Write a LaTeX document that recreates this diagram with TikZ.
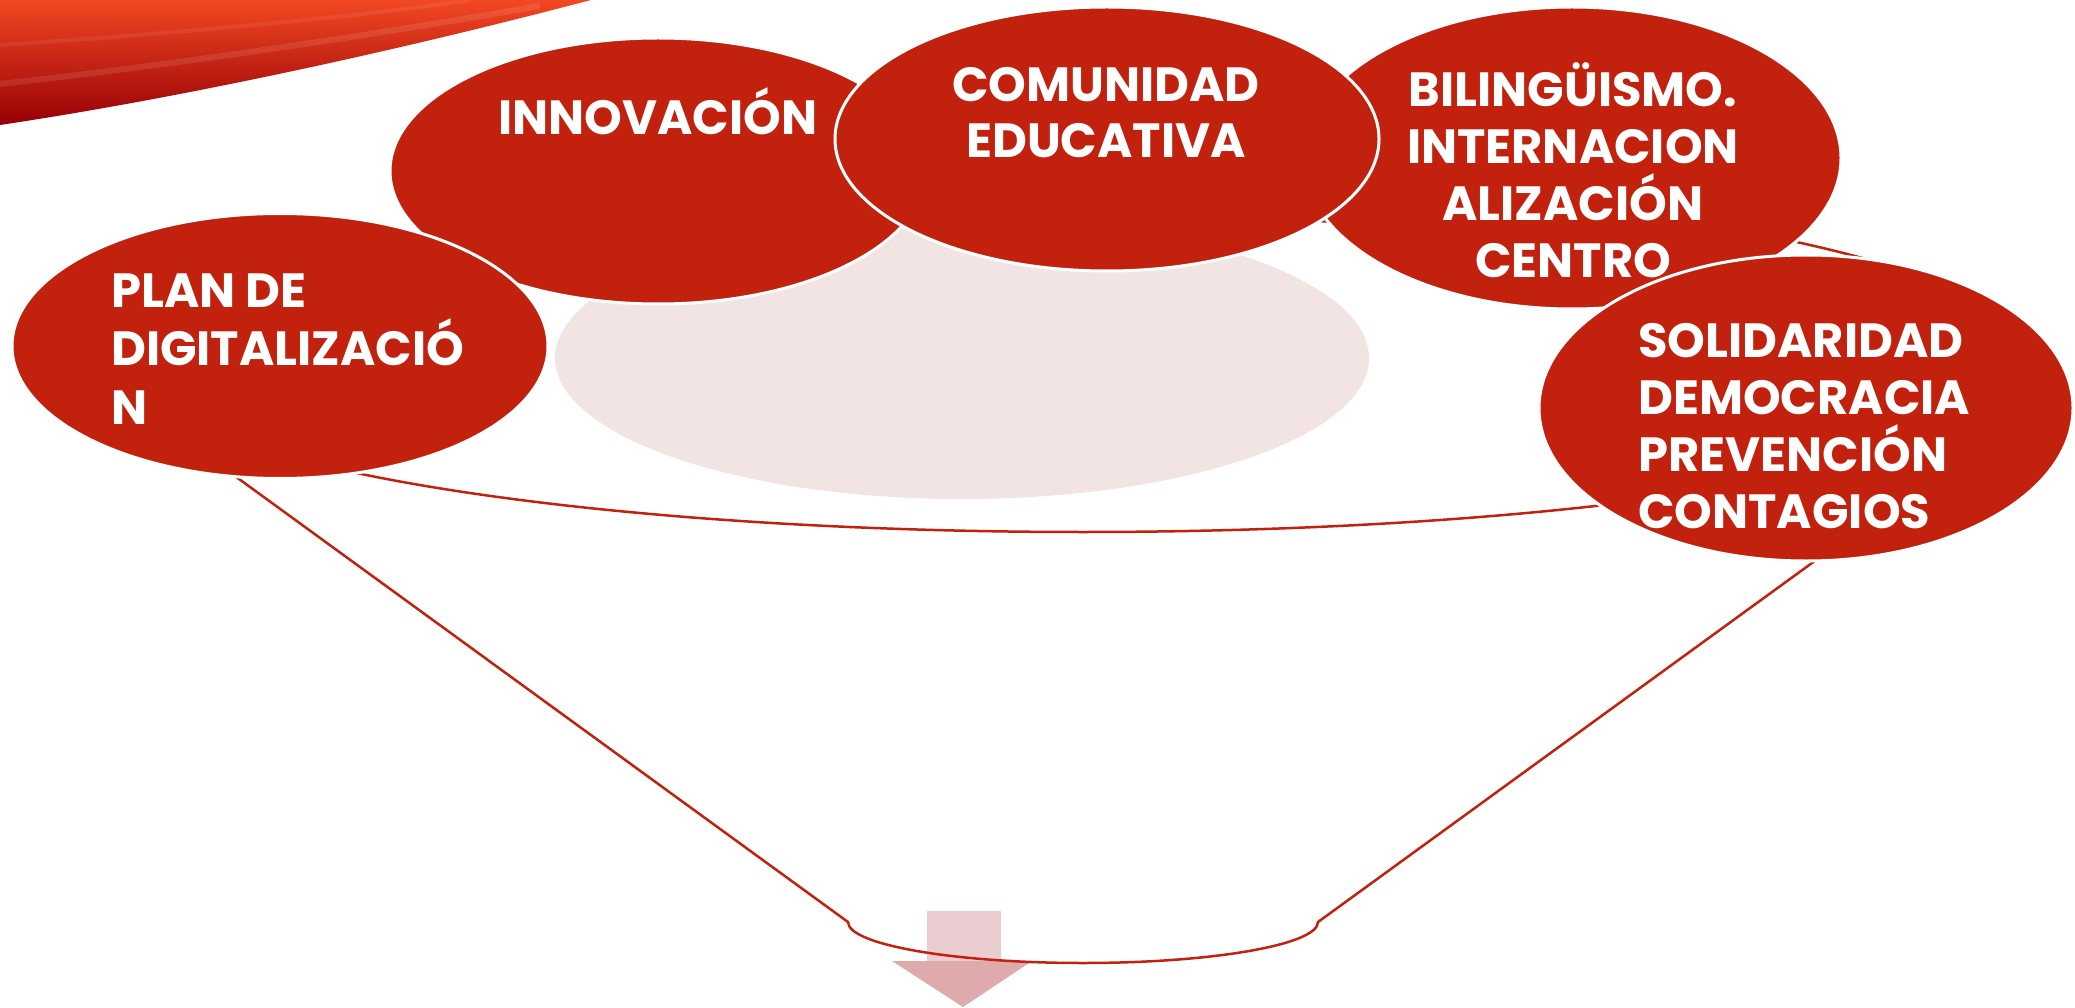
\documentclass[tikz,border=0pt]{standalone}
\usepackage{fontspec}
\setmainfont{Poppins}
\usetikzlibrary{shapes.geometric}
\definecolor{bubred}{RGB}{194,33,14}
\definecolor{palepink}{RGB}{243,228,228}
\definecolor{stemcol}{RGB}{234,205,208}
\definecolor{headcol}{RGB}{222,170,171}
\definecolor{swtop}{RGB}{242,72,34}
\definecolor{swmid}{RGB}{232,28,26}
\definecolor{swbot}{RGB}{150,0,6}
\begin{document}
\begin{tikzpicture}[x=1pt,y=-1pt,
  bubble/.style={ellipse, fill=bubred, draw=white, line width=3pt, inner sep=0pt},
  lbl/.style={text=white, font=\fontsize{48}{57}\selectfont\bfseries, inner sep=0pt},
  rim/.style={draw=bubred, line width=2.5pt, line join=round}]
\useasboundingbox (0,0) rectangle (2075,1008);
\fill[white] (0,0) rectangle (2075,1008);
% swoosh
\shade[top color=swtop, middle color=swmid, bottom color=swbot]
  (0,0) -- (591,0) .. controls (420,45) and (200,95) .. (0,125) -- cycle;
\draw[white, opacity=0.10, line width=6pt] (0,84) .. controls (180,64) and (360,37) .. (540,6);
\draw[white, opacity=0.07, line width=4pt] (0,45) .. controls (200,32) and (380,14) .. (470,0);
% arrow
\fill[stemcol] (927,911) rectangle (1001,961);
\fill[headcol] (892,961) -- (1032,961) -- (963,1007) -- cycle;
% funnel
\coordinate (fl) at (118,391);
\coordinate (fr) at (2048,391);
\coordinate (bl) at (848,922);
\coordinate (br) at (1318,922);
\draw[rim] (fl) arc[start angle=175, end angle=365, x radius=969, y radius=195]
  -- (br) arc[start angle=0, end angle=180, x radius=235, y radius=41] -- cycle;
\draw[rim] (1083,374) ellipse [x radius=932, y radius=158];
% pale ellipse
\node[ellipse, fill=palepink, inner sep=0pt, minimum width=814pt, minimum height=282pt] (pale) at (962,358) {};
% bubbles
\node[bubble, minimum width=536pt, minimum height=266pt] (innov) at (658,171) {};
\node[bubble, minimum width=538pt, minimum height=302pt] (biling) at (1572,158) {};
\node[bubble, minimum width=544pt, minimum height=264pt] (comun) at (1107,139) {};
\node[bubble, minimum width=536pt, minimum height=265pt] (plan) at (280,346) {};
\node[bubble, minimum width=534pt, minimum height=306pt] (solid) at (1806,408) {};
% texts
\node[lbl, anchor=base] (tinnov) at (658,135) {INNOVACIÓN};
\node[lbl, anchor=base] (tcom1) at (1106,102) {COMUNIDAD};
\node[lbl, anchor=base] (tcom2) at (1106,158) {EDUCATIVA};
\node[lbl, anchor=base west] (tplan1) at (111,308) {PLAN DE};
\node[lbl, anchor=base west] (tplan2) at (111,366) {DIGITALIZACIÓ};
\node[lbl, anchor=base west] (tplan3) at (111,424) {N};
\node[lbl, anchor=base] (tbil1) at (1573,107) {BILINGÜISMO.};
\node[lbl, anchor=base] (tbil2) at (1573,164) {INTERNACION};
\node[lbl, anchor=base] (tbil3) at (1573,221) {ALIZACIÓN};
\node[lbl, anchor=base] (tbil4) at (1573,278) {CENTRO};
\node[lbl, anchor=base west] (tsol1) at (1638,357) {SOLIDARIDAD};
\node[lbl, anchor=base west] (tsol2) at (1638,414) {DEMOCRACIA};
\node[lbl, anchor=base west] (tsol3) at (1638,471) {PREVENCIÓN};
\node[lbl, anchor=base west] (tsol4) at (1638,528) {CONTAGIOS};
\end{tikzpicture}
\end{document}
